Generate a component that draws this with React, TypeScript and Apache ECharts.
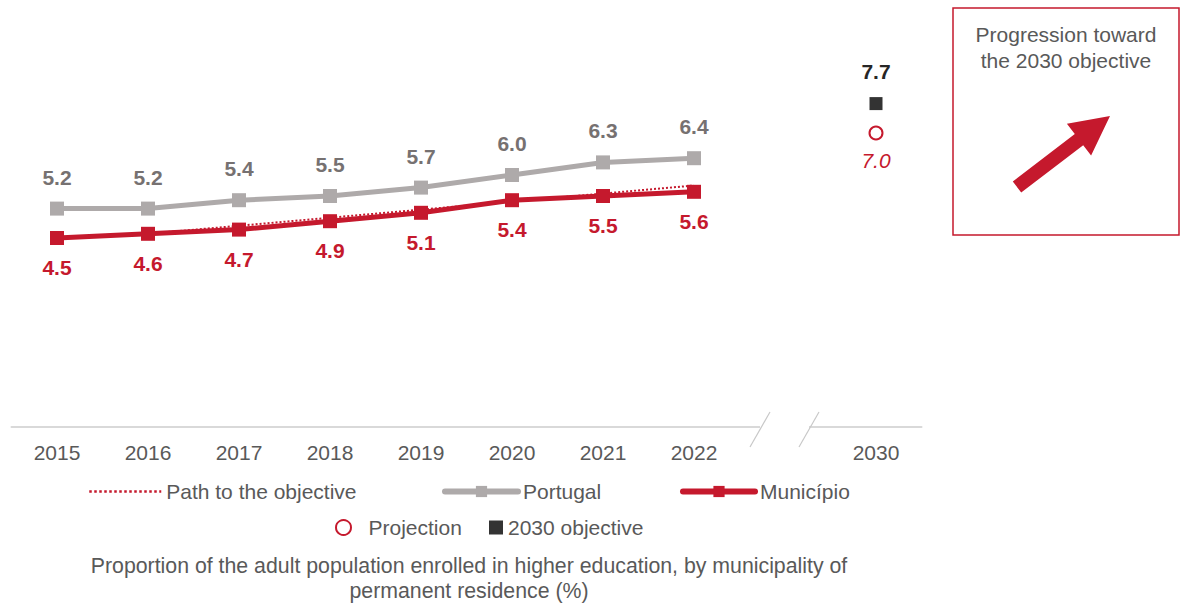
import React, { useEffect, useRef } from "react";
import * as echarts from "echarts";

const categories = ["2015", "2016", "2017", "2018", "2019", "2020", "2021", "2022", "", "2030"];
const portugal = [5.2, 5.2, 5.4, 5.5, 5.7, 6.0, 6.3, 6.4, null, null];
const municipio = [4.5, 4.6, 4.7, 4.9, 5.1, 5.4, 5.5, 5.6, null, null];
const pathToObjective = [null, 4.6, null, null, null, null, null, 5.75, null, null];
const projection = [null, null, null, null, null, null, null, null, null, 7.0];
const objective2030 = [null, null, null, null, null, null, null, null, null, 7.7];
const titleText =
  "Proportion of the adult population enrolled in higher education, by municipality of\npermanent residence (%)";
const boxText = "Progression toward\nthe 2030 objective";

const RED = "#c5192d";
const GREY = "#aeaaaa";
const GREY_LABEL = "#767171";
const TEXT = "#595959";
const FONT = "'Liberation Sans', Arial, sans-serif";

export default function App() {
  const ref = useRef<HTMLDivElement>(null);
  useEffect(() => {
    if (!ref.current) return;
    const chart = echarts.init(ref.current, null, { renderer: "svg" });
    const legendText = { fontSize: 21, color: TEXT, fontFamily: FONT };
    chart.setOption({
      animation: false,
      textStyle: { fontFamily: FONT },
      title: {
        text: titleText,
        left: 464,
        top: 548,
        textAlign: "center",
        textStyle: { fontSize: 21.3, fontWeight: "normal", color: TEXT, lineHeight: 25, fontFamily: FONT },
      },
      grid: { left: 11.5, right: 259.5, top: 7, bottom: 178 },
      xAxis: {
        type: "category",
        data: categories,
        boundaryGap: true,
        axisLine: { show: true, lineStyle: { color: "#d9d9d9", width: 2 } },
        axisTick: { show: false },
        axisLabel: { color: TEXT, fontSize: 21, margin: 15, fontFamily: FONT, interval: 0 },
      },
      yAxis: { type: "value", min: 0, max: 10, show: false, splitLine: { show: false } },
      legend: [
        {
          data: ["Path to the objective"], left: 83, top: 476, itemWidth: 72, itemHeight: 14,
          itemStyle: { opacity: 0 },
          lineStyle: { width: 2.5 },
          textStyle: legendText,
        },
        {
          data: ["Portugal"], left: 437, top: 476, itemWidth: 73, itemHeight: 14,
          lineStyle: { width: 6, cap: "round" },
          textStyle: legendText,
        },
        {
          data: ["Município"], left: 675, top: 476, itemWidth: 72, itemHeight: 14,
          lineStyle: { width: 6, cap: "round" },
          textStyle: legendText,
        },
        {
          data: ["Projection"], left: 330, top: 512, itemWidth: 40, itemHeight: 15,
          textStyle: legendText,
        },
        {
          data: ["2030 objective"], left: 484, top: 512, itemWidth: 14, itemHeight: 14,
          textStyle: legendText,
        },
      ],
      series: [
        {
          name: "Path to the objective",
          type: "line",
          data: pathToObjective,
          connectNulls: true,
          symbol: "none",
          z: 1,
          itemStyle: { color: RED },
          lineStyle: { color: RED, width: 2, type: "dotted" },
        },
        {
          name: "Portugal",
          type: "line",
          data: portugal,
          symbol: "rect",
          symbolSize: 14,
          z: 2,
          itemStyle: { color: GREY },
          lineStyle: { color: GREY, width: 5 },
          label: {
            show: true, position: "top", distance: 14,
            color: GREY_LABEL, fontSize: 21, fontWeight: "bold", fontFamily: FONT,
            formatter: (p: any) => p.value.toFixed(1),
          },
        },
        {
          name: "Município",
          type: "line",
          data: municipio,
          symbol: "rect",
          symbolSize: 14,
          z: 3,
          itemStyle: { color: RED },
          lineStyle: { color: RED, width: 5 },
          label: {
            show: true, position: "bottom", distance: 12,
            color: RED, fontSize: 21, fontWeight: "bold", fontFamily: FONT,
            formatter: (p: any) => p.value.toFixed(1),
          },
        },
        {
          name: "Projection",
          type: "scatter",
          data: projection,
          symbol: "circle",
          symbolSize: 13,
          itemStyle: { color: "#ffffff", borderColor: RED, borderWidth: 2, opacity: 1 },
          label: {
            show: true, position: "bottom", distance: 9,
            color: RED, fontSize: 21, fontStyle: "italic", fontFamily: FONT,
            formatter: (p: any) => p.value.toFixed(1),
          },
        },
        {
          name: "2030 objective",
          type: "scatter",
          data: objective2030,
          symbol: "rect",
          symbolSize: 13,
          itemStyle: { color: "#333333", opacity: 1 },
          label: {
            show: true, position: "top", distance: 15,
            color: "#262626", fontSize: 21, fontWeight: "bold", fontFamily: FONT,
            formatter: (p: any) => p.value.toFixed(1),
          },
        },
      ],
      graphic: [
        { type: "rect", shape: { x: 760, y: 420, width: 49, height: 16 }, style: { fill: "#ffffff" }, z: 100 },
        { type: "line", shape: { x1: 750, y1: 447, x2: 770, y2: 412 }, style: { stroke: "#c8c8c8", lineWidth: 1.2 }, z: 101 },
        { type: "line", shape: { x1: 799, y1: 447, x2: 819, y2: 412 }, style: { stroke: "#c8c8c8", lineWidth: 1.2 }, z: 101 },
        {
          type: "rect",
          shape: { x: 953, y: 8, width: 226, height: 227 },
          style: { fill: "#ffffff", stroke: RED, lineWidth: 1.5 },
          z: 100,
        },
        {
          type: "text",
          x: 1066,
          y: 21,
          z: 101,
          style: {
            text: boxText, align: "center", verticalAlign: "top",
            fontSize: 21, lineHeight: 26, fill: TEXT, fontFamily: FONT,
          },
        },
        {
          type: "polygon",
          z: 101,
          shape: {
            points: [
              [1012.8, 181.4], [1074.8, 134.1], [1066.9, 123.8], [1110, 116],
              [1091.1, 155.6], [1083.2, 145.3], [1021.2, 192.6],
            ],
          },
          style: { fill: RED },
        },
      ],
    });
    return () => chart.dispose();
  }, []);
  return <div ref={ref} style={{ position: "absolute", left: 0, top: 0, width: 1181, height: 605 }} />;
}
